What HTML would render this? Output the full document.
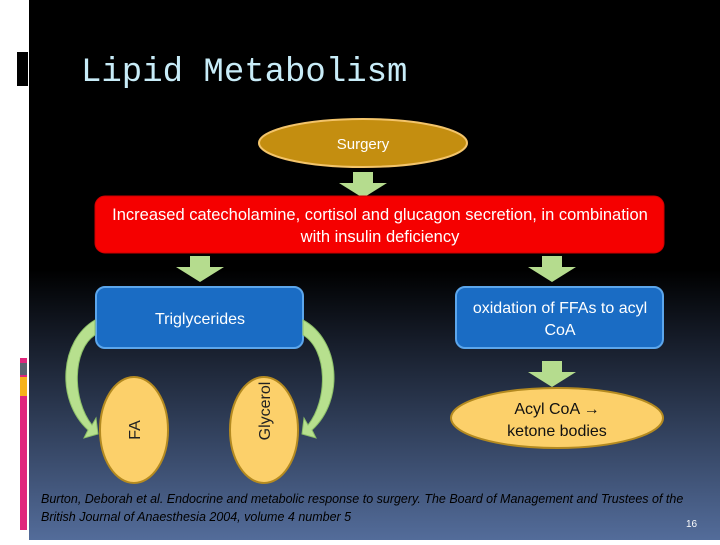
<!DOCTYPE html>
<html><head><style>
body{margin:0;width:720px;height:540px;overflow:hidden;background:#fff;font-family:"Liberation Sans",sans-serif}
</style></head><body>
<svg width="720" height="540" xmlns="http://www.w3.org/2000/svg">
<defs>
<linearGradient id="bg" x1="0" y1="0" x2="0" y2="1">
<stop offset="0" stop-color="#000"/><stop offset="0.5" stop-color="#000"/><stop offset="0.62" stop-color="#141a26"/><stop offset="1" stop-color="#536c9a"/>
</linearGradient>
</defs>
<rect x="0" y="0" width="720" height="540" fill="#fff"/>
<rect x="29" y="0" width="691" height="540" fill="url(#bg)"/>
<rect x="17" y="52" width="11" height="34" fill="#000"/>
<rect x="20" y="358" width="7" height="172" fill="#e0267d"/>
<rect x="20" y="363" width="7" height="12" fill="#5b6270"/>
<rect x="20" y="377" width="7" height="19" fill="#f6b21b"/>
<text x="81" y="81" font-family="Liberation Mono,monospace" font-size="34" fill="#c8ecf8">Lipid Metabolism</text>
<ellipse cx="363" cy="143" rx="104" ry="24" fill="#c48e10" stroke="#f3c46a" stroke-width="2"/>
<text x="363" y="149" text-anchor="middle" font-size="15" fill="#fff">Surgery</text>
<path d="M353 172h20v11h14l-24 15-24-15h14z" fill="#b5dc8e"/>
<rect x="95" y="196" width="569" height="57" rx="10" fill="#f50000" stroke="#c00" stroke-width="1"/>
<text x="380" y="220" text-anchor="middle" font-size="16.5" fill="#fff">Increased catecholamine, cortisol and glucagon secretion, in combination</text>
<text x="380" y="242" text-anchor="middle" font-size="16.5" fill="#fff">with insulin deficiency</text>
<path d="M190 256h20v11h14l-24 15-24-15h14z" fill="#b5dc8e"/>
<path d="M542 256h20v11h14l-24 15-24-15h14z" fill="#b5dc8e"/>
<rect x="96" y="287" width="207" height="61" rx="9" fill="#1a6cc4" stroke="#5ca6ec" stroke-width="2"/>
<text x="200" y="324" text-anchor="middle" font-size="16" fill="#fff">Triglycerides</text>
<rect x="456" y="287" width="207" height="61" rx="9" fill="#1a6cc4" stroke="#5ca6ec" stroke-width="2"/>
<text x="560" y="313" text-anchor="middle" font-size="16" fill="#fff">oxidation of FFAs to acyl</text>
<text x="560" y="335" text-anchor="middle" font-size="16" fill="#fff">CoA</text>
<path d="M542 361h20v11h14l-24 15-24-15h14z" fill="#b5dc8e"/>
<path d="M95 320C60 340 55 400 88 430l-4 8 14-4-2-16-4 7C72 400 72 350 95 335z" fill="#b7e08e" stroke="#8cbf68"/>
<path d="M303 320C340 340 345 400 312 430l4 8-14-4 2-16 4 7C328 400 328 350 303 335z" fill="#b7e08e" stroke="#8cbf68"/>
<ellipse cx="134" cy="430" rx="34" ry="53" fill="#fcd06a" stroke="#b48a20" stroke-width="2"/>
<text transform="translate(140,430) rotate(-90)" text-anchor="middle" font-size="16" fill="#222">FA</text>
<ellipse cx="264" cy="430" rx="34" ry="53" fill="#fcd06a" stroke="#b48a20" stroke-width="2"/>
<text transform="translate(270,411) rotate(-90)" text-anchor="middle" font-size="16" fill="#222">Glycerol</text>
<ellipse cx="557" cy="418" rx="106" ry="30" fill="#fcd06a" stroke="#b48a20" stroke-width="2"/>
<text x="557" y="414" text-anchor="middle" font-size="16" fill="#111">Acyl CoA →</text>
<text x="557" y="436" text-anchor="middle" font-size="16" fill="#111">ketone bodies</text>
<text x="41" y="503" font-size="12.5" font-style="italic" fill="#000">Burton, Deborah et al. Endocrine and metabolic response to surgery. The Board of Management and Trustees of the</text>
<text x="41" y="521" font-size="12.5" font-style="italic" fill="#000">British Journal of Anaesthesia 2004, volume 4 number 5</text>
<text x="686" y="527" font-size="10" fill="#fff">16</text>
</svg>
</body></html>
